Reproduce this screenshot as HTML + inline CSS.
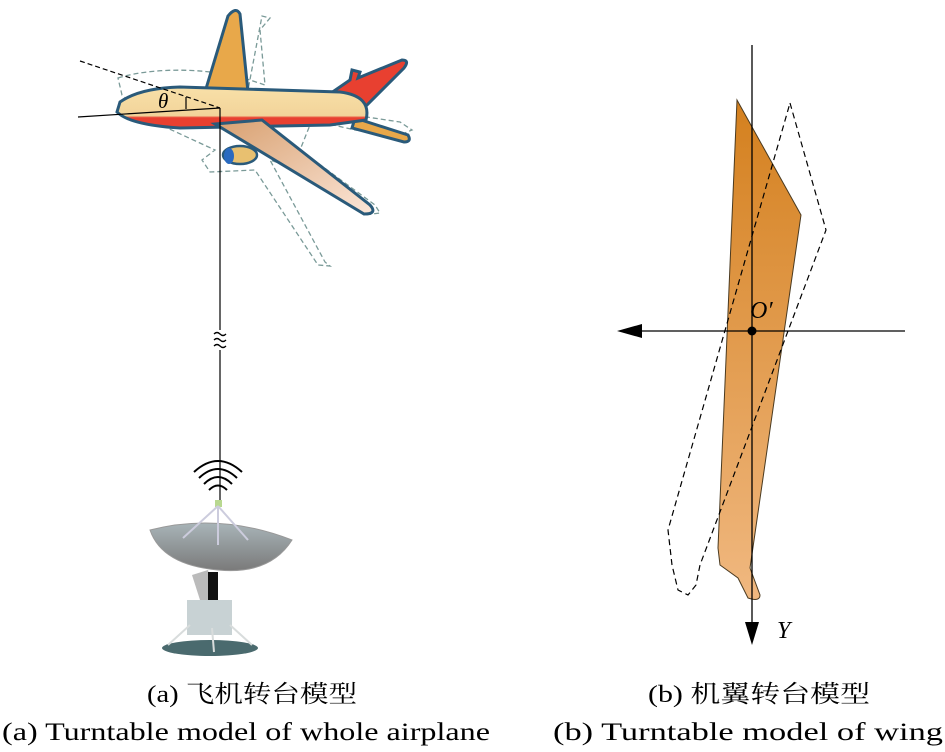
<!DOCTYPE html>
<html><head><meta charset="utf-8"><style>
body{margin:0;background:#fff;width:945px;height:752px;overflow:hidden}
svg{display:block}
text{font-family:"Liberation Serif","Noto Serif CJK SC",serif;fill:#000}
</style></head><body>
<svg width="945" height="752" viewBox="0 0 945 752">
<defs>
<linearGradient id="wg" x1="0" y1="0" x2="0" y2="1"><stop offset="0" stop-color="#d4801e"/><stop offset="1" stop-color="#f0b880"/></linearGradient>
<linearGradient id="fus" x1="0" y1="0" x2="0" y2="1"><stop offset="0" stop-color="#f8e0a8"/><stop offset="0.7" stop-color="#f2d49a"/><stop offset="0.75" stop-color="#e84030"/><stop offset="1" stop-color="#e84030"/></linearGradient>
<linearGradient id="lw" x1="0" y1="0" x2="1" y2="1"><stop offset="0" stop-color="#d8a070"/><stop offset="1" stop-color="#fbe6d8"/></linearGradient>
<linearGradient id="dish" x1="0" y1="0" x2="0" y2="1"><stop offset="0" stop-color="#a8b4b8"/><stop offset="1" stop-color="#7a7a7a"/></linearGradient>
</defs>
<g fill="none" stroke="#7a9a98" stroke-width="1.3" stroke-dasharray="5,3">
<path d="M118,78 C160,65 220,70 250,80 L265,85 L260,30 L270,18 L262,16 L248,90 L320,110 L400,122 L412,130 L400,135 L355,130 L312,120 L300,150 L375,205 L380,213 L365,215 L330,180 L270,160 L325,262 L330,266 L318,265 L255,170 L210,172 L202,160 L215,150 L150,120 L122,95 Z"/>
</g>
<path d="M205,92 L228,16 Q236,6 240,14 L248,92 Z" fill="#e8a84a" stroke="#2a5a7a" stroke-width="3"/>
<path d="M318,102 L350,80 L352,70 L360,72 L358,78 L402,60 Q410,60 404,68 L360,112 Z" fill="#e84030" stroke="#2a5a7a" stroke-width="3"/>
<path d="M355,118 L408,135 Q412,142 404,142 L352,128 Z" fill="#e8a84a" stroke="#2a5a7a" stroke-width="3"/>
<path d="M120,102 Q140,88 180,87 L340,92 Q372,96 366,120 L330,125 L180,128 Q130,125 117,112 Z" fill="url(#fus)" stroke="#2a5a7a" stroke-width="3"/>
<path d="M215,124 L262,120 L370,205 Q378,214 364,214 Z" fill="url(#lw)" stroke="#2a5a7a" stroke-width="3"/>
<ellipse cx="240" cy="155" rx="17" ry="9" fill="#e8c070" stroke="#2a5a7a" stroke-width="2.5"/>
<ellipse cx="229" cy="156" rx="5" ry="8" fill="#2a6ac0"/>
<line x1="80" y1="61" x2="220" y2="108" stroke="#000" stroke-width="1.2" stroke-dasharray="5,3"/>
<line x1="78" y1="117" x2="220" y2="108" stroke="#000" stroke-width="1.2"/>
<line x1="186" y1="97" x2="186" y2="109" stroke="#000" stroke-width="1.2"/>
<text x="158" y="108" font-size="21" font-style="italic">θ</text>
<line x1="220" y1="108" x2="220" y2="330" stroke="#000" stroke-width="1.2"/>
<g fill="none" stroke="#000" stroke-width="1.3">
<path d="M214,334 q3,-3 6,0 t6,0"/><path d="M214,340 q3,-3 6,0 t6,0"/><path d="M214,346 q3,-3 6,0 t6,0"/>
</g>
<line x1="220" y1="350" x2="220" y2="500" stroke="#000" stroke-width="1.2"/>
<g fill="none" stroke="#000" stroke-width="2">
<path d="M194,472 Q218,450 242,472"/><path d="M199,478 Q218,460 237,478"/><path d="M204,484 Q218,470 232,484"/><path d="M209,490 Q218,481 227,490"/>
</g>
<rect x="215" y="500" width="7" height="7" fill="#b8d890"/>
<path d="M150,530 Q220,512 292,540 Q270,575 218,570 Q162,565 150,530 Z" fill="url(#dish)" stroke="#999"/>
<g stroke="#ccd" stroke-width="2"><line x1="218" y1="506" x2="183" y2="538"/><line x1="218" y1="506" x2="248" y2="540"/><line x1="218" y1="506" x2="218" y2="545"/></g>
<path d="M192,575 L208,570 L215,600 L200,600 Z" fill="#bbb"/>
<rect x="208" y="572" width="10" height="30" fill="#111"/>
<rect x="187" y="600" width="45" height="35" fill="#c8d2d4"/>
<ellipse cx="210" cy="648" rx="48" ry="8" fill="#4a6a6e"/>
<g stroke="#d8dcdc" stroke-width="2"><line x1="190" y1="625" x2="168" y2="645"/><line x1="230" y1="625" x2="252" y2="645"/><line x1="212" y1="628" x2="214" y2="652"/></g>
<path d="M737,100 L801,215 L750,568 L760,595 Q760,602 748,598 L738,578 L720,565 L718,548 Z" fill="url(#wg)" stroke="#4a3a20" stroke-width="1"/>
<path d="M790,103 L826,230 L700,565 L696,585 L688,595 L678,590 L672,565 L668,530 Z" fill="none" stroke="#000" stroke-width="1.2" stroke-dasharray="6,4"/>
<line x1="752" y1="45" x2="752" y2="625" stroke="#000" stroke-width="1.3"/>
<polygon points="745,622 759,622 752,645" fill="#000"/>
<line x1="640" y1="331" x2="905" y2="331" stroke="#000" stroke-width="1.3"/>
<polygon points="617,331 642,324 642,338" fill="#000"/>
<circle cx="752" cy="331" r="4.5" fill="#000"/>
<text x="750" y="318" font-size="24" font-style="italic">O′</text>
<text x="777" y="638" font-size="24" font-style="italic">Y</text>
<text x="147" y="702" font-size="24" textLength="210" lengthAdjust="spacingAndGlyphs">(a) 飞机转台模型</text>
<text x="2" y="740" font-size="25" textLength="488" lengthAdjust="spacingAndGlyphs">(a) Turntable model of whole airplane</text>
<text x="648" y="702" font-size="24" textLength="222" lengthAdjust="spacingAndGlyphs">(b) 机翼转台模型</text>
<text x="553" y="740" font-size="25" textLength="390" lengthAdjust="spacingAndGlyphs">(b) Turntable model of wing</text>
</svg>
</body></html>
